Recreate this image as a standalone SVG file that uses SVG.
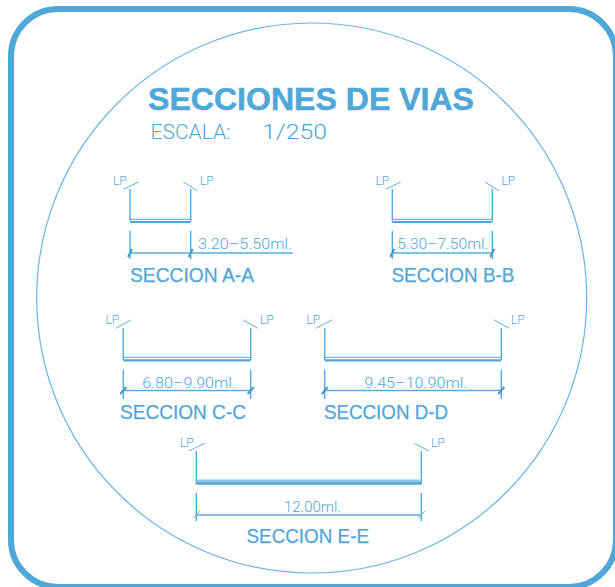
<svg xmlns="http://www.w3.org/2000/svg" width="615" height="587" viewBox="0 0 615 587">
<style>
text{font-family:"Liberation Sans",Arial,sans-serif;fill:#4fa6d8}
.thin{font-family:Roboto,"Liberation Sans",sans-serif;font-weight:300}
.lp{font-size:12px}
.dimt{font-size:14.5px}
.sec{font-size:20px;stroke:#4fa6d8;stroke-width:.25}
.w{fill:none;stroke:#52a9dc;stroke-width:1.4}
.t{fill:none;stroke:#62b0de;stroke-width:1}
.r1{fill:none;stroke:#4fa6d8;stroke-width:1}
.r2{fill:none;stroke:#4fa6d8;stroke-width:2.2}
.d{fill:none;stroke:#58abdc;stroke-width:1.4}
.s{fill:none;stroke:#3f9bd2;stroke-width:2}
</style>
<rect width="615" height="587" fill="#fff"/>
<g id="frame">
<rect x="11" y="9" width="605" height="578" rx="47" ry="47" fill="none" stroke="#4fa6d8" stroke-width="6"/>
<circle cx="311.7" cy="298" r="275" fill="none" stroke="#6ab6e2" stroke-width="1.2"/>
</g>
<g id="title">
<text x="148" y="110" font-size="31" font-weight="700" stroke="#4fa6d8" stroke-width=".5" textLength="326" lengthAdjust="spacingAndGlyphs">SECCIONES DE VIAS</text>
<text class="thin" x="150.5" y="139.3" font-size="20" textLength="80" lengthAdjust="spacingAndGlyphs">ESCALA:</text>
<text class="thin" x="262" y="139.3" font-size="20" textLength="65" lengthAdjust="spacingAndGlyphs">1/250</text>
</g>
<g id="seccion-a">
<path class="t" d="M123.3 189.3L138.3 182M183.3 182L197.3 190.7"/>
<path class="w" d="M130 189V221M190.7 189V221M130 231V259M190.7 231V259"/>
<path class="r1" d="M130 219.3H190.7"/><path class="r2" d="M130 222H190.7"/>
<path class="d" d="M130 253H292.7"/><path class="s" d="M128 257L132 249M188.7 257L192.7 249"/>
<text class="lp thin" x="113" y="185">LP</text><text class="lp thin" x="200" y="185">LP</text>
<text class="dimt thin" x="198" y="249" textLength="94" lengthAdjust="spacingAndGlyphs">3.20–5.50ml.</text>
<text class="sec" x="130" y="282" textLength="124" lengthAdjust="spacingAndGlyphs">SECCION A-A</text>
</g>
<g id="seccion-b">
<path class="t" d="M385.7 189.3L400.7 182M485 182L499 190.7"/>
<path class="w" d="M392.3 189V221M492.3 189V221M392.3 231V259M492.3 231V259"/>
<path class="r1" d="M392.3 219.3H492.3"/><path class="r2" d="M392.3 222H492.3"/>
<path class="d" d="M392.3 253H492.3"/><path class="s" d="M390.3 257L394.3 249M490.3 257L494.3 249"/>
<text class="lp thin" x="375.5" y="185">LP</text><text class="lp thin" x="501.5" y="185">LP</text>
<text class="dimt thin" x="397.3" y="249" textLength="91" lengthAdjust="spacingAndGlyphs">5.30–7.50ml.</text>
<text class="sec" x="391.5" y="282" textLength="123" lengthAdjust="spacingAndGlyphs">SECCION B-B</text>
</g>
<g id="seccion-c">
<path class="t" d="M115.7 328.3L130.7 320M243.3 320L257.7 328.3"/>
<path class="w" d="M123.3 328V360M250.7 328V360M123.3 370V399M250.7 370V399"/>
<path class="r1" d="M123.3 357.3H250.7"/><path class="r2" d="M123.3 360.3H250.7"/>
<path class="d" d="M123.3 390.5H250.7"/><path class="s" d="M120.3 394L126.3 387M247.7 394L253.7 387"/>
<text class="lp thin" x="105.5" y="323.5">LP</text><text class="lp thin" x="260" y="323.5">LP</text>
<text class="dimt thin" x="142.3" y="387.5" textLength="93.5" lengthAdjust="spacingAndGlyphs">6.80–9.90ml.</text>
<text class="sec" x="120" y="419.3" textLength="126" lengthAdjust="spacingAndGlyphs">SECCION C-C</text>
</g>
<g id="seccion-d">
<path class="t" d="M315.7 328.3L332.3 320M494.3 320L509.3 328.3"/>
<path class="w" d="M324.7 328V360M501.3 328V360M324.7 370V399M501.3 370V399"/>
<path class="r1" d="M324.7 357.3H501.3"/><path class="r2" d="M324.7 360.3H501.3"/>
<path class="d" d="M324.7 390.5H501.3"/><path class="s" d="M321.7 394L327.7 387M498.3 394L504.3 387"/>
<text class="lp thin" x="306.5" y="323.5">LP</text><text class="lp thin" x="511" y="323.5">LP</text>
<text class="dimt thin" x="364.3" y="387.5" textLength="103" lengthAdjust="spacingAndGlyphs">9.45–10.90ml.</text>
<text class="sec" x="324" y="419.3" textLength="124" lengthAdjust="spacingAndGlyphs">SECCION D-D</text>
</g>
<g id="seccion-e">
<path class="t" d="M189.3 450.7L204.7 443.3M414.3 443.3L429 451"/>
<path class="w" d="M196.3 451V484M421.3 451V484M196.3 493V521M421.3 493V521"/>
<path stroke="#8cc5e8" stroke-width="3" fill="none" d="M196.3 481H421.3"/><path stroke="#4fa6d8" stroke-width="2.6" fill="none" d="M196.3 483.5H421.3"/>
<path class="d" d="M196.3 515H421.3"/><path class="t" d="M193.3 518L200 511M418.3 518L425 511"/>
<text class="lp thin" x="180" y="446.7">LP</text><text class="lp thin" x="431" y="446.7">LP</text>
<text class="dimt thin" x="284" y="511.7" textLength="57" lengthAdjust="spacingAndGlyphs">12.00ml.</text>
<text class="sec" x="246.5" y="543.3" textLength="122.5" lengthAdjust="spacingAndGlyphs">SECCION E-E</text>
</g>
</svg>
